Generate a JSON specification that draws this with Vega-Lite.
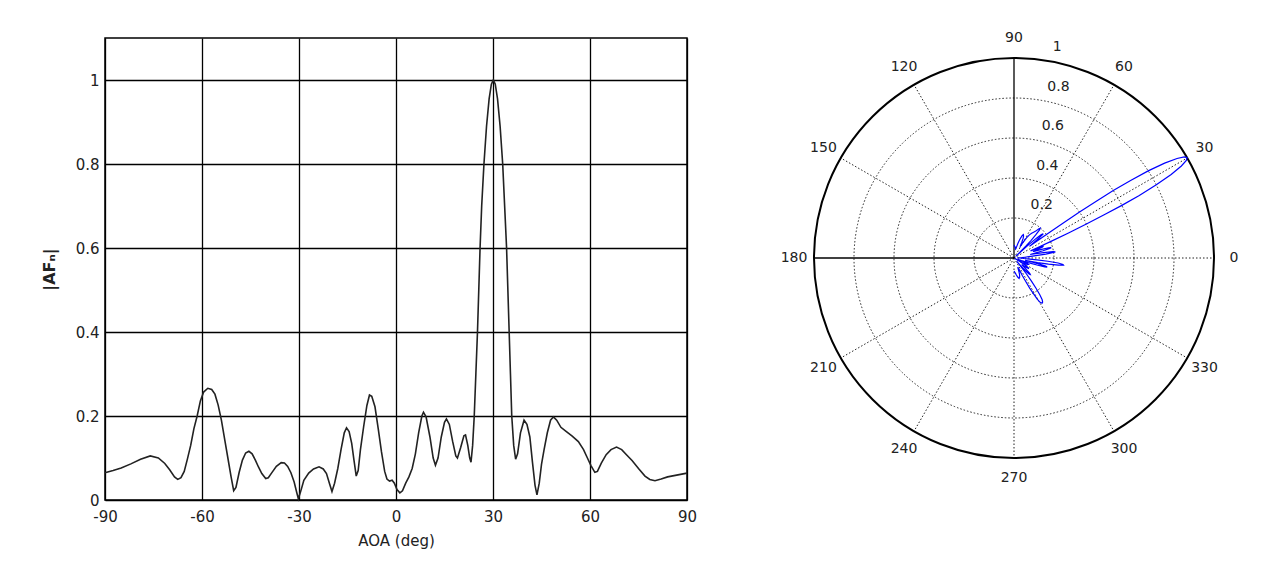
{
  "$schema": "https://vega.github.io/schema/vega-lite/v6.json",
  "background": "white",
  "padding": {"left": 40, "top": 31, "right": 0, "bottom": 0},
  "bounds": "flush",
  "spacing": 107,
  "config": {
    "font": "DejaVu Sans",
    "text": {"font": "DejaVu Sans"}
  },
  "datasets": {
    "af": [
      {"aoa": -90, "af": 0.065}, {"aoa": -87.5, "af": 0.07}, {"aoa": -85, "af": 0.076}, {"aoa": -82, "af": 0.086},
      {"aoa": -79, "af": 0.097}, {"aoa": -76, "af": 0.105}, {"aoa": -73.5, "af": 0.1}, {"aoa": -71.5, "af": 0.087},
      {"aoa": -70, "af": 0.072}, {"aoa": -68.5, "af": 0.055}, {"aoa": -67.5, "af": 0.049}, {"aoa": -66.5, "af": 0.053},
      {"aoa": -65.5, "af": 0.068}, {"aoa": -64.5, "af": 0.098}, {"aoa": -63.5, "af": 0.13}, {"aoa": -62.5, "af": 0.17},
      {"aoa": -61.5, "af": 0.2}, {"aoa": -60.5, "af": 0.236}, {"aoa": -59.5, "af": 0.257}, {"aoa": -58.2, "af": 0.266},
      {"aoa": -57, "af": 0.263}, {"aoa": -56, "af": 0.252}, {"aoa": -55, "af": 0.226}, {"aoa": -54, "af": 0.19},
      {"aoa": -53, "af": 0.145}, {"aoa": -52, "af": 0.1}, {"aoa": -51, "af": 0.055}, {"aoa": -50.2, "af": 0.022},
      {"aoa": -49.5, "af": 0.03}, {"aoa": -48.5, "af": 0.066}, {"aoa": -47.5, "af": 0.095}, {"aoa": -46.5, "af": 0.112},
      {"aoa": -45.5, "af": 0.116}, {"aoa": -44.5, "af": 0.11}, {"aoa": -43.5, "af": 0.095}, {"aoa": -42.5, "af": 0.078},
      {"aoa": -41.5, "af": 0.063}, {"aoa": -40.3, "af": 0.051}, {"aoa": -39.5, "af": 0.053}, {"aoa": -38.5, "af": 0.064},
      {"aoa": -37, "af": 0.08}, {"aoa": -35.5, "af": 0.089}, {"aoa": -34.5, "af": 0.088}, {"aoa": -33.5, "af": 0.08},
      {"aoa": -32.5, "af": 0.065}, {"aoa": -31.5, "af": 0.043}, {"aoa": -30.7, "af": 0.018}, {"aoa": -30.2, "af": 0.003},
      {"aoa": -29.5, "af": 0.02}, {"aoa": -28.5, "af": 0.047}, {"aoa": -27, "af": 0.064}, {"aoa": -25.5, "af": 0.074},
      {"aoa": -23.8, "af": 0.079}, {"aoa": -22.5, "af": 0.074}, {"aoa": -21.5, "af": 0.063}, {"aoa": -20.6, "af": 0.04},
      {"aoa": -19.8, "af": 0.02}, {"aoa": -19, "af": 0.04}, {"aoa": -18, "af": 0.075}, {"aoa": -17, "af": 0.12},
      {"aoa": -16, "af": 0.16}, {"aoa": -15.3, "af": 0.172}, {"aoa": -14.5, "af": 0.163}, {"aoa": -13.7, "af": 0.135},
      {"aoa": -13, "af": 0.095}, {"aoa": -12.3, "af": 0.057}, {"aoa": -11.7, "af": 0.07}, {"aoa": -11, "af": 0.12},
      {"aoa": -10, "af": 0.175}, {"aoa": -9, "af": 0.225}, {"aoa": -8.2, "af": 0.25}, {"aoa": -7.5, "af": 0.247},
      {"aoa": -6.5, "af": 0.222}, {"aoa": -5.5, "af": 0.17}, {"aoa": -4.5, "af": 0.115}, {"aoa": -3.5, "af": 0.068},
      {"aoa": -2.8, "af": 0.05}, {"aoa": -2, "af": 0.045}, {"aoa": -1.2, "af": 0.047}, {"aoa": -0.5, "af": 0.04},
      {"aoa": 0.3, "af": 0.025}, {"aoa": 1.2, "af": 0.017}, {"aoa": 2, "af": 0.022}, {"aoa": 3, "af": 0.04},
      {"aoa": 4, "af": 0.055}, {"aoa": 5, "af": 0.075}, {"aoa": 6, "af": 0.11}, {"aoa": 7, "af": 0.16},
      {"aoa": 8, "af": 0.2}, {"aoa": 8.5, "af": 0.209}, {"aoa": 9.3, "af": 0.198}, {"aoa": 10.5, "af": 0.15},
      {"aoa": 11.5, "af": 0.1}, {"aoa": 12.2, "af": 0.083}, {"aoa": 13, "af": 0.1}, {"aoa": 14, "af": 0.15},
      {"aoa": 15, "af": 0.185}, {"aoa": 15.6, "af": 0.193}, {"aoa": 16.5, "af": 0.18}, {"aoa": 17.5, "af": 0.14},
      {"aoa": 18.5, "af": 0.105}, {"aoa": 19, "af": 0.1}, {"aoa": 20, "af": 0.125}, {"aoa": 21, "af": 0.153},
      {"aoa": 21.5, "af": 0.155}, {"aoa": 22.2, "af": 0.13}, {"aoa": 22.8, "af": 0.1}, {"aoa": 23.2, "af": 0.09},
      {"aoa": 23.7, "af": 0.13}, {"aoa": 24.2, "af": 0.2}, {"aoa": 24.7, "af": 0.3}, {"aoa": 25.2, "af": 0.4},
      {"aoa": 25.6, "af": 0.5}, {"aoa": 26.0, "af": 0.6}, {"aoa": 26.5, "af": 0.7}, {"aoa": 27.2, "af": 0.8},
      {"aoa": 28.0, "af": 0.89}, {"aoa": 28.8, "af": 0.955}, {"aoa": 29.5, "af": 0.99}, {"aoa": 30.1, "af": 1.0},
      {"aoa": 30.7, "af": 0.99}, {"aoa": 31.4, "af": 0.955}, {"aoa": 32.2, "af": 0.89}, {"aoa": 33.0, "af": 0.8},
      {"aoa": 33.6, "af": 0.7}, {"aoa": 34.2, "af": 0.6}, {"aoa": 34.6, "af": 0.5}, {"aoa": 35.0, "af": 0.4},
      {"aoa": 35.4, "af": 0.3}, {"aoa": 35.8, "af": 0.2}, {"aoa": 36.4, "af": 0.13}, {"aoa": 37.0, "af": 0.097},
      {"aoa": 37.6, "af": 0.11}, {"aoa": 38.5, "af": 0.16}, {"aoa": 39.6, "af": 0.19}, {"aoa": 40.5, "af": 0.18},
      {"aoa": 41.4, "af": 0.15}, {"aoa": 42.2, "af": 0.09}, {"aoa": 43.0, "af": 0.035}, {"aoa": 43.6, "af": 0.012},
      {"aoa": 44.3, "af": 0.04}, {"aoa": 45.0, "af": 0.085}, {"aoa": 45.8, "af": 0.12}, {"aoa": 46.8, "af": 0.16},
      {"aoa": 47.8, "af": 0.19}, {"aoa": 48.7, "af": 0.198}, {"aoa": 49.7, "af": 0.19}, {"aoa": 51, "af": 0.173},
      {"aoa": 52.8, "af": 0.162}, {"aoa": 54.5, "af": 0.152}, {"aoa": 56.4, "af": 0.139}, {"aoa": 58, "af": 0.12},
      {"aoa": 59.2, "af": 0.1}, {"aoa": 60.3, "af": 0.082}, {"aoa": 61.5, "af": 0.066}, {"aoa": 62.3, "af": 0.068},
      {"aoa": 63.5, "af": 0.088}, {"aoa": 65, "af": 0.108}, {"aoa": 66.5, "af": 0.12}, {"aoa": 68.2, "af": 0.126},
      {"aoa": 69.8, "af": 0.12}, {"aoa": 71.5, "af": 0.106}, {"aoa": 73, "af": 0.094}, {"aoa": 75, "af": 0.075},
      {"aoa": 77, "af": 0.057}, {"aoa": 78.5, "af": 0.049}, {"aoa": 80.1, "af": 0.046}, {"aoa": 82, "af": 0.05},
      {"aoa": 84, "af": 0.055}, {"aoa": 86, "af": 0.058}, {"aoa": 88, "af": 0.061}, {"aoa": 90, "af": 0.064}
    ],
    "rings": [{"r": 0.2}, {"r": 0.4}, {"r": 0.6}, {"r": 0.8}],
    "outer": [{"r": 1}],
    "spokesDotted": [{"a": 0}, {"a": 270}, {"a": 30}, {"a": 210}, {"a": 60}, {"a": 240}, {"a": 120}, {"a": 300}, {"a": 150}, {"a": 330}],
    "spokesSolid": [{"a": 90}, {"a": 180}],
    "angleLabels": [
      {"a": 0, "lab": "0"}, {"a": 30, "lab": "30"}, {"a": 60, "lab": "60"}, {"a": 90, "lab": "90"},
      {"a": 120, "lab": "120"}, {"a": 150, "lab": "150"}, {"a": 180, "lab": "180"}, {"a": 210, "lab": "210"},
      {"a": 240, "lab": "240"}, {"a": 270, "lab": "270"}, {"a": 300, "lab": "300"}, {"a": 330, "lab": "330"}
    ],
    "ringLabels": [
      {"r": 0.2, "lab": "0.2"}, {"r": 0.4, "lab": "0.4"}, {"r": 0.6, "lab": "0.6"}, {"r": 0.8, "lab": "0.8"}, {"r": 1, "lab": "1"}
    ]
  },
  "hconcat": [
    {
      "width": 582,
      "height": 462,
      "view": {"stroke": "black", "strokeWidth": 1.5},
      "data": {"name": "af"},
      "mark": {"type": "line", "color": "#222", "strokeWidth": 1.6},
      "encoding": {
        "x": {
          "field": "aoa", "type": "quantitative",
          "scale": {"domain": [-90, 90], "nice": false, "zero": false},
          "axis": {
            "title": "AOA (deg)", "values": [-90, -60, -30, 0, 30, 60, 90],
            "labelExpr": "'' + datum.value", "labelFlush": false,
            "grid": true, "gridColor": "black", "gridWidth": 1.3, "gridOpacity": 1,
            "domain": false, "ticks": false, "labelPadding": 9,
            "labelFontSize": 15, "labelColor": "#222", "labelFont": "DejaVu Sans",
            "titleFontSize": 15, "titleFontWeight": "normal", "titleColor": "#222", "titleFont": "DejaVu Sans",
            "titlePadding": 9
          }
        },
        "y": {
          "field": "af", "type": "quantitative",
          "scale": {"domain": [0, 1.1], "nice": false},
          "axis": {
            "title": "|AFₙ|", "values": [0, 0.2, 0.4, 0.6, 0.8, 1], "format": "~g", "labelFlush": false,
            "grid": true, "gridColor": "black", "gridWidth": 1.3, "gridOpacity": 1,
            "domain": false, "ticks": false, "labelPadding": 6,
            "labelFontSize": 15, "labelColor": "#222", "labelFont": "DejaVu Sans",
            "titleFontSize": 16, "titleFontWeight": "bold", "titleColor": "#222", "titleFont": "DejaVu Sans",
            "titlePadding": 18
          }
        }
      }
    },
    {
      "width": 440,
      "height": 440,
      "view": {"stroke": null},
      "layer": [
        {
          "data": {"name": "rings"},
          "transform": [{"calculate": "0", "as": "z"}],
          "mark": {"type": "point", "shape": "circle", "filled": false, "color": "#222", "strokeWidth": 1, "strokeDash": [1.5, 2], "opacity": 1},
          "encoding": {
            "x": {"field": "z", "type": "quantitative", "scale": {"domain": [-1.1, 1.1], "nice": false, "zero": false}, "axis": null},
            "y": {"field": "z", "type": "quantitative", "scale": {"domain": [-1.1, 1.1], "nice": false, "zero": false}, "axis": null},
            "size": {"field": "r", "type": "quantitative", "scale": {"type": "pow", "exponent": 2, "domain": [0, 1], "range": [0, 160000]}, "legend": null}
          }
        },
        {
          "data": {"name": "outer"},
          "transform": [{"calculate": "0", "as": "z"}],
          "mark": {"type": "point", "shape": "circle", "filled": false, "color": "black", "strokeWidth": 2, "opacity": 1},
          "encoding": {
            "x": {"field": "z", "type": "quantitative", "scale": {"domain": [-1.1, 1.1], "nice": false, "zero": false}, "axis": null},
            "y": {"field": "z", "type": "quantitative", "scale": {"domain": [-1.1, 1.1], "nice": false, "zero": false}, "axis": null},
            "size": {"field": "r", "type": "quantitative", "scale": {"type": "pow", "exponent": 2, "domain": [0, 1], "range": [0, 160000]}, "legend": null}
          }
        },
        {
          "data": {"name": "spokesDotted"},
          "transform": [
            {"calculate": "0", "as": "z"},
            {"calculate": "cos(datum.a * PI / 180)", "as": "cx"},
            {"calculate": "sin(datum.a * PI / 180)", "as": "cy"}
          ],
          "mark": {"type": "rule", "color": "#222", "strokeWidth": 1, "strokeDash": [1.5, 2]},
          "encoding": {
            "x": {"field": "z", "type": "quantitative", "scale": {"domain": [-1.1, 1.1], "nice": false, "zero": false}, "axis": null},
            "y": {"field": "z", "type": "quantitative", "scale": {"domain": [-1.1, 1.1], "nice": false, "zero": false}, "axis": null},
            "x2": {"field": "cx"},
            "y2": {"field": "cy"}
          }
        },
        {
          "data": {"name": "spokesSolid"},
          "transform": [
            {"calculate": "0", "as": "z"},
            {"calculate": "cos(datum.a * PI / 180)", "as": "cx"},
            {"calculate": "sin(datum.a * PI / 180)", "as": "cy"}
          ],
          "mark": {"type": "rule", "color": "black", "strokeWidth": 1.3},
          "encoding": {
            "x": {"field": "z", "type": "quantitative", "scale": {"domain": [-1.1, 1.1], "nice": false, "zero": false}, "axis": null},
            "y": {"field": "z", "type": "quantitative", "scale": {"domain": [-1.1, 1.1], "nice": false, "zero": false}, "axis": null},
            "x2": {"field": "cx"},
            "y2": {"field": "cy"}
          }
        },
        {
          "data": {"name": "af"},
          "transform": [
            {"calculate": "datum.af * cos(datum.aoa * PI / 180)", "as": "px"},
            {"calculate": "datum.af * sin(datum.aoa * PI / 180)", "as": "py"}
          ],
          "mark": {"type": "line", "color": "#0000ff", "strokeWidth": 1.2},
          "encoding": {
            "x": {"field": "px", "type": "quantitative", "scale": {"domain": [-1.1, 1.1], "nice": false, "zero": false}, "axis": null},
            "y": {"field": "py", "type": "quantitative", "scale": {"domain": [-1.1, 1.1], "nice": false, "zero": false}, "axis": null},
            "order": {"field": "aoa", "type": "quantitative"}
          }
        },
        {
          "data": {"name": "angleLabels"},
          "transform": [
            {"calculate": "1.1 * cos(datum.a * PI / 180)", "as": "lx"},
            {"calculate": "1.1 * sin(datum.a * PI / 180)", "as": "ly"}
          ],
          "mark": {"type": "text", "fontSize": 14, "color": "#222", "align": "center", "baseline": "middle", "font": "DejaVu Sans"},
          "encoding": {
            "x": {"field": "lx", "type": "quantitative", "scale": {"domain": [-1.1, 1.1], "nice": false, "zero": false}, "axis": null},
            "y": {"field": "ly", "type": "quantitative", "scale": {"domain": [-1.1, 1.1], "nice": false, "zero": false}, "axis": null},
            "text": {"field": "lab"}
          }
        },
        {
          "data": {"name": "ringLabels"},
          "transform": [
            {"calculate": "datum.r * cos(82 * PI / 180)", "as": "lx"},
            {"calculate": "datum.r * sin(82 * PI / 180)", "as": "ly"}
          ],
          "mark": {"type": "text", "fontSize": 14, "color": "#222", "align": "left", "baseline": "bottom", "dx": 11, "dy": -6, "font": "DejaVu Sans"},
          "encoding": {
            "x": {"field": "lx", "type": "quantitative", "scale": {"domain": [-1.1, 1.1], "nice": false, "zero": false}, "axis": null},
            "y": {"field": "ly", "type": "quantitative", "scale": {"domain": [-1.1, 1.1], "nice": false, "zero": false}, "axis": null},
            "text": {"field": "lab"}
          }
        }
      ]
    }
  ]
}
